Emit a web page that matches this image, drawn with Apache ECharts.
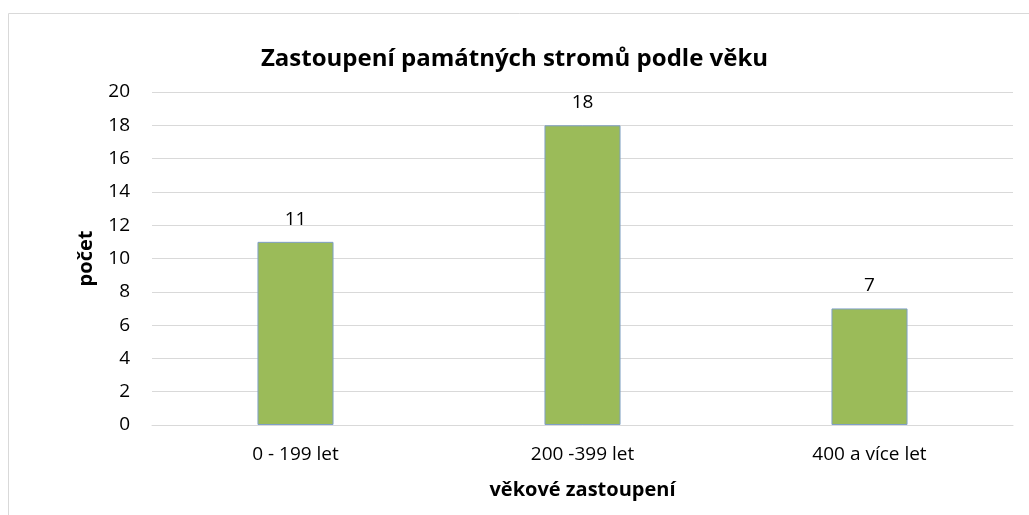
<!DOCTYPE html>
<html>
<head>
<meta charset="utf-8">
<script src="https://cdn.jsdelivr.net/npm/echarts@6/dist/echarts.min.js"></script>
<style>
  html, body { margin: 0; padding: 0; background: #fff; }
  #chart { width: 1029px; height: 515px; }
</style>
</head>
<body>
<div id="chart"></div>
<script>
// data
const categories = ['0 - 199 let', '200 -399 let', '400 a více let'];
const counts = [11, 18, 7];
const yTicks = { min: 0, max: 20, interval: 2 };

const font = 'Open Sans';
const chart = echarts.init(document.getElementById('chart'));

const option = {
    animation: false,
    textStyle: { fontFamily: font },
    graphic: [{
        type: 'rect',
        silent: true,
        shape: { x: 8.5, y: 13.5, width: 1100, height: 600 },
        style: { fill: 'none', stroke: '#d9d9d9', lineWidth: 1 }
    }],
    title: {
        text: 'Zastoupení památných stromů podle věku',
        left: 'center',
        top: 42,
        textStyle: { fontFamily: font, fontSize: 24, fontWeight: 'bold', color: '#000' }
    },
    grid: { left: 152, right: 16, top: 92, bottom: 90, containLabel: false },
    xAxis: {
        type: 'category',
        data: categories,
        name: 'věkové zastoupení',
        nameLocation: 'middle',
        nameGap: 55,
        nameTextStyle: { fontFamily: font, fontSize: 20, fontWeight: 'bold', color: '#000' },
        axisLine: { lineStyle: { color: '#d9d9d9', width: 1 } },
        axisTick: { show: false },
        axisLabel: { fontFamily: font, fontSize: 19, color: '#000', margin: 20 }
    },
    yAxis: {
        type: 'value',
        min: yTicks.min,
        max: yTicks.max,
        interval: yTicks.interval,
        name: 'počet',
        nameLocation: 'middle',
        nameGap: 56,
        nameTextStyle: { fontFamily: font, fontSize: 20, fontWeight: 'bold', color: '#000' },
        axisLine: { show: false },
        axisTick: { show: false },
        axisLabel: { fontFamily: font, fontSize: 19, color: '#000', margin: 22 },
        splitLine: { lineStyle: { color: '#d9d9d9', width: 1 } }
    },
    series: [{
        type: 'bar',
        data: counts,
        barWidth: '26.5%',
        itemStyle: { color: '#9bbb59', borderColor: '#7f9fc6', borderWidth: 1 },
        label: {
            show: true,
            position: 'top',
            distance: 13,
            fontFamily: font,
            fontSize: 19,
            color: '#000'
        }
    }]
};
chart.setOption(option);
</script>
</body>
</html>
